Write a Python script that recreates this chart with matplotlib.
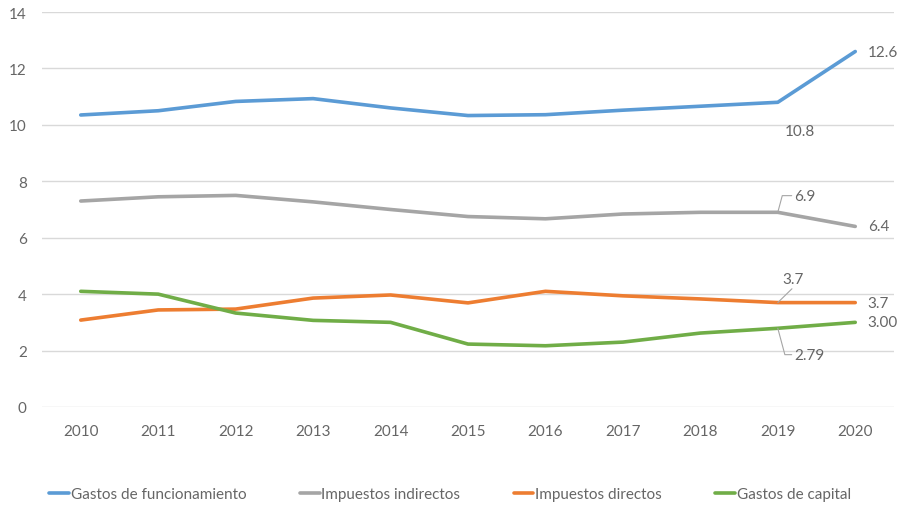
import numpy as np
import matplotlib.pyplot as plt

plt.rcParams['font.family'] = ['Lato', 'DejaVu Sans']

# data
years = [2010, 2011, 2012, 2013, 2014, 2015, 2016, 2017, 2018, 2019, 2020]
funcionamiento = [10.35, 10.5, 10.83, 10.93, 10.6, 10.33, 10.36, 10.52, 10.66, 10.8, 12.6]
indirectos = [7.3, 7.45, 7.5, 7.27, 7.0, 6.75, 6.67, 6.84, 6.9, 6.9, 6.4]
directos = [3.08, 3.44, 3.47, 3.86, 3.97, 3.69, 4.1, 3.94, 3.83, 3.7, 3.7]
capital = [4.1, 4.0, 3.33, 3.07, 3.0, 2.23, 2.17, 2.3, 2.62, 2.79, 3.0]

names = ['Gastos de funcionamiento', 'Impuestos indirectos', 'Impuestos directos', 'Gastos de capital']
colors = ['#5B9BD5', '#A5A5A5', '#ED7D31', '#70AD47']
txt = '#666666'
fs = 11

fig = plt.figure(figsize=(9, 5.06), dpi=100)
ax = fig.add_axes([0.0467, 0.1937, 0.9466, 0.7806])

for s, n, c in zip([funcionamiento, indirectos, directos, capital], names, colors):
    ax.plot(years, s, color=c, lw=2.6, label=n, solid_capstyle='round')

ax.set_xlim(2009.5, 2020.5)
ax.set_ylim(0, 14)
ax.set_yticks(np.arange(0, 15, 2))
ax.set_xticks(years)
ax.grid(axis='y', color='#D9D9D9', lw=1)
ax.set_axisbelow(True)
for sp in ax.spines.values():
    sp.set_visible(False)
ax.tick_params(length=0, colors=txt, labelsize=fs)
ax.tick_params(axis='x', pad=12)
ax.tick_params(axis='y', pad=11)

# end labels
for lab, s in [('12.6', funcionamiento), ('6.4', indirectos), ('3.7', directos), ('3.00', capital)]:
    ax.annotate(lab, (2020, s[-1]), xytext=(9, 0), textcoords='offset points',
                va='center', ha='left', color=txt, fontsize=fs)
ax.annotate('10.8', (2019, funcionamiento[-2]), xytext=(5, -21), textcoords='offset points',
            va='center', ha='left', color=txt, fontsize=fs)

# labels with leader lines
lead = dict(arrowstyle='-', color='#A5A5A5', lw=0.8, shrinkA=0, shrinkB=0)
ax.annotate('6.9', (2019, indirectos[-2]), xytext=(12, 12), textcoords='offset points',
            va='center', ha='left', color=txt, fontsize=fs,
            arrowprops=dict(lead, connectionstyle='angle,angleA=0,angleB=75,rad=0'))
ax.annotate('3.7', (2019, directos[-2]), xytext=(3, 17), textcoords='offset points',
            va='center', ha='left', color=txt, fontsize=fs,
            arrowprops=dict(lead, relpos=(0.6, 0)))
ax.annotate('2.79', (2019, capital[-2]), xytext=(12, -19), textcoords='offset points',
            va='center', ha='left', color=txt, fontsize=fs,
            arrowprops=dict(lead, connectionstyle='angle,angleA=0,angleB=-75,rad=0'))

fig.legend(loc='center', bbox_to_anchor=(0.5, 0.022), ncol=4, frameon=False,
           handlelength=1.3, handletextpad=0.1, columnspacing=3.5,
           labelcolor=txt, fontsize=fs)

fig.savefig('out.png', dpi=100)
